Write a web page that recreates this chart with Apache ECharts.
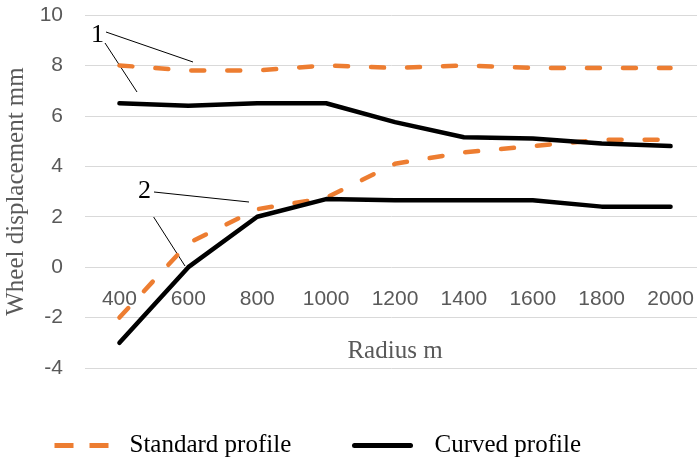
<!DOCTYPE html>
<html>
<head>
<meta charset="utf-8">
<script src="https://cdn.jsdelivr.net/npm/echarts@6/dist/echarts.min.js"></script>
<style>
html,body{margin:0;padding:0;background:#fff;}
#chart{width:697px;height:457px;}
</style>
</head>
<body>
<div id="chart"></div>
<script>
var categories = ['400', '600', '800', '1000', '1200', '1400', '1600', '1800', '2000'];
var standardUpper = [8.0, 7.8, 7.8, 8.0, 7.9, 8.0, 7.9, 7.9, 7.9];
var standardLower = [-2.0, 0.95, 2.3, 2.75, 4.1, 4.55, 4.8, 5.05, 5.05];
var curvedUpper = [6.5, 6.4, 6.5, 6.5, 5.75, 5.15, 5.1, 4.9, 4.8];
var curvedLower = [-3.0, 0.0, 2.0, 2.7, 2.65, 2.65, 2.65, 2.4, 2.4];
var yMin = -4, yMax = 10, yStep = 2;

var serif = "'Liberation Serif', 'Times New Roman', serif";
var sans = "'Liberation Sans', Arial, sans-serif";
var orange = '#ED7D31';

var W = 697, H = 457;
var gridTop = 15, gridBottom = 89, gridLeft = 85, gridWidth = 620;
var gridHeight = H - gridTop - gridBottom;
// place the category axis where the value axis crosses zero
var xAxisOffset = -((0 - yMin) / (yMax - yMin)) * gridHeight;

var chart = echarts.init(document.getElementById('chart'), null, {renderer: 'canvas'});

function orangeSeries(data) {
  return {
    name: 'Standard profile', type: 'line', data: data, symbol: 'none',
    lineStyle: {color: orange, width: 4.5, type: [13, 23], cap: 'round'},
    itemStyle: {color: orange}, z: 2
  };
}
function blackSeries(data) {
  return {
    name: 'Curved profile', type: 'line', data: data, symbol: 'none',
    lineStyle: {color: '#000', width: 4.5, cap: 'round', join: 'round'},
    itemStyle: {color: '#000'}, z: 3
  };
}

function legendText(padLeft) {
  return {fontFamily: serif, fontSize: 25, color: '#000', padding: [0, 0, 0, padLeft]};
}

chart.setOption({
  animation: false,
  backgroundColor: '#fff',
  grid: {left: gridLeft, top: gridTop, width: gridWidth, height: gridHeight, containLabel: false, outerBoundsMode: 'none'},
  legend: [
    {data: ['Standard profile'], left: 52, top: 433, padding: 0, itemWidth: 56, itemHeight: 14,
     itemStyle: {opacity: 0}, lineStyle: {width: 5, type: [19, 16], cap: 'butt'}, textStyle: legendText(14)},
    {data: ['Curved profile'], left: 352, top: 433, padding: 0, itemWidth: 56, itemHeight: 14,
     itemStyle: {opacity: 0}, lineStyle: {width: 5}, textStyle: legendText(19)}
  ],
  xAxis: {
    type: 'category', data: categories, boundaryGap: true,
    offset: xAxisOffset,
    axisLine: {show: false, onZero: false},
    axisTick: {show: false},
    axisLabel: {color: '#595959', fontFamily: sans, fontSize: 21, margin: 22},
    splitLine: {show: false},
    name: 'Radius m', nameLocation: 'middle', nameGap: 72,
    nameTextStyle: {fontFamily: serif, fontSize: 25, color: '#595959'}
  },
  yAxis: {
    type: 'value', min: yMin, max: yMax, interval: yStep,
    axisLine: {show: false}, axisTick: {show: false},
    axisLabel: {color: '#595959', fontFamily: sans, fontSize: 21, margin: 22},
    splitLine: {lineStyle: {color: '#d9d9d9', width: 1}},
    name: 'Wheel displacement mm', nameLocation: 'middle', nameGap: 50,
    nameTextStyle: {fontFamily: serif, fontSize: 25, color: '#595959'}
  },
  series: [
    orangeSeries(standardUpper),
    orangeSeries(standardLower),
    blackSeries(curvedUpper),
    blackSeries(curvedLower)
  ],
  graphic: [
    {type: 'text', left: 91, top: 22, style: {text: '1', fontFamily: serif, fontSize: 26, fill: '#000'}},
    {type: 'line', shape: {x1: 106, y1: 32, x2: 193, y2: 62}, style: {stroke: '#000', lineWidth: 1}},
    {type: 'line', shape: {x1: 105, y1: 43, x2: 137, y2: 92}, style: {stroke: '#000', lineWidth: 1}},
    {type: 'text', left: 138, top: 178, style: {text: '2', fontFamily: serif, fontSize: 26, fill: '#000'}},
    {type: 'line', shape: {x1: 154, y1: 192, x2: 249, y2: 202}, style: {stroke: '#000', lineWidth: 1}},
    {type: 'line', shape: {x1: 153, y1: 216, x2: 185, y2: 266}, style: {stroke: '#000', lineWidth: 1}}
  ]
});
</script>
</body>
</html>
